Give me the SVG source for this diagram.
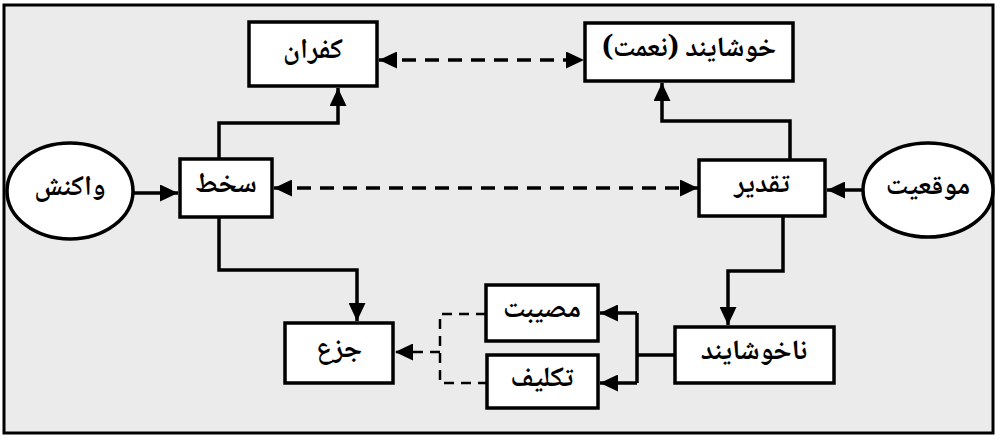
<svg xmlns="http://www.w3.org/2000/svg" width="1000" height="443" viewBox="0 0 1000 443">
<style>
.box{fill:#fff;stroke:#000;stroke-width:3.5}
.lbl{font-family:"Noto Naskh Arabic","DejaVu Sans",sans-serif;font-weight:bold;font-size:28px;fill:#000;text-anchor:middle;dominant-baseline:central}
.c{fill:none;stroke:#000;stroke-width:3.5}
.d{fill:none;stroke:#000;stroke-width:3.5;stroke-dasharray:14 9}
.d2{fill:none;stroke:#000;stroke-width:2.5;stroke-dasharray:10 7}
</style>
<defs>
<marker id="ah" markerUnits="userSpaceOnUse" markerWidth="19" markerHeight="17" refX="18" refY="8.5" orient="auto-start-reverse">
<path d="M0,0 L18,8.5 L0,17 z" fill="#000"/>
</marker>
</defs>
<rect x="4" y="5" width="989" height="428" fill="#ebebeb" stroke="#000" stroke-width="3"/>
<g id="connectors">
<path class="c" d="M219,159 V123 H338 V88" marker-end="url(#ah)"/>
<path class="c" d="M790,160 V121 H662 V83" marker-end="url(#ah)"/>
<path class="c" d="M219,217 V270 H357 V321" marker-end="url(#ah)"/>
<path class="c" d="M783,216 V271 H728 V325" marker-end="url(#ah)"/>
<path class="c" d="M133,193 H178" marker-end="url(#ah)"/>
<path class="c" d="M864,190 H827" marker-end="url(#ah)"/>
<path class="d" d="M379,60 H584" marker-start="url(#ah)" marker-end="url(#ah)"/>
<path class="d" d="M274,188 H698" marker-start="url(#ah)" marker-end="url(#ah)"/>
<path class="c" d="M675,355 H637"/>
<path class="c" d="M637,313 V383"/>
<path class="c" d="M637,313 H600" marker-end="url(#ah)"/>
<path class="c" d="M637,383 H600" marker-end="url(#ah)"/>
<path class="d2" d="M486,314 H440 V383 H487"/>
<path class="d2" d="M440,352 H395" marker-end="url(#ah)"/>
</g>
<g id="vakonesh"><ellipse class="box" cx="70" cy="191" rx="63" ry="48"/><text class="lbl" x="70" y="189">واکنش</text></g>
<g id="mowqeiyat"><ellipse class="box" cx="928" cy="190" rx="65" ry="47"/><text class="lbl" x="928" y="188">موقعیت</text></g>
<g id="sakht"><rect class="box" x="180" y="159" width="92" height="58"/><text class="lbl" x="226" y="186">سخط</text></g>
<g id="taqdir"><rect class="box" x="699" y="160" width="126" height="56"/><text class="lbl" x="762" y="186">تقدیر</text></g>
<g id="kofran"><rect class="box" x="249" y="22" width="128" height="64"/><text class="lbl" x="313" y="52">کفران</text></g>
<g id="khoshayand"><rect class="box" x="585" y="23" width="208" height="58"/><text class="lbl" x="689" y="50">خوشایند (نعمت)</text></g>
<g id="jaz"><rect class="box" x="285" y="323" width="108" height="60"/><text class="lbl" x="339" y="351">جزع</text></g>
<g id="mosibat"><rect class="box" x="486" y="285" width="112" height="56"/><text class="lbl" x="542" y="311">مصیبت</text></g>
<g id="taklif"><rect class="box" x="487" y="355" width="111" height="53"/><text class="lbl" x="542" y="380">تکلیف</text></g>
<g id="nakhoshayand"><rect class="box" x="675" y="327" width="159" height="56"/><text class="lbl" x="754" y="353">ناخوشایند</text></g>
</svg>
